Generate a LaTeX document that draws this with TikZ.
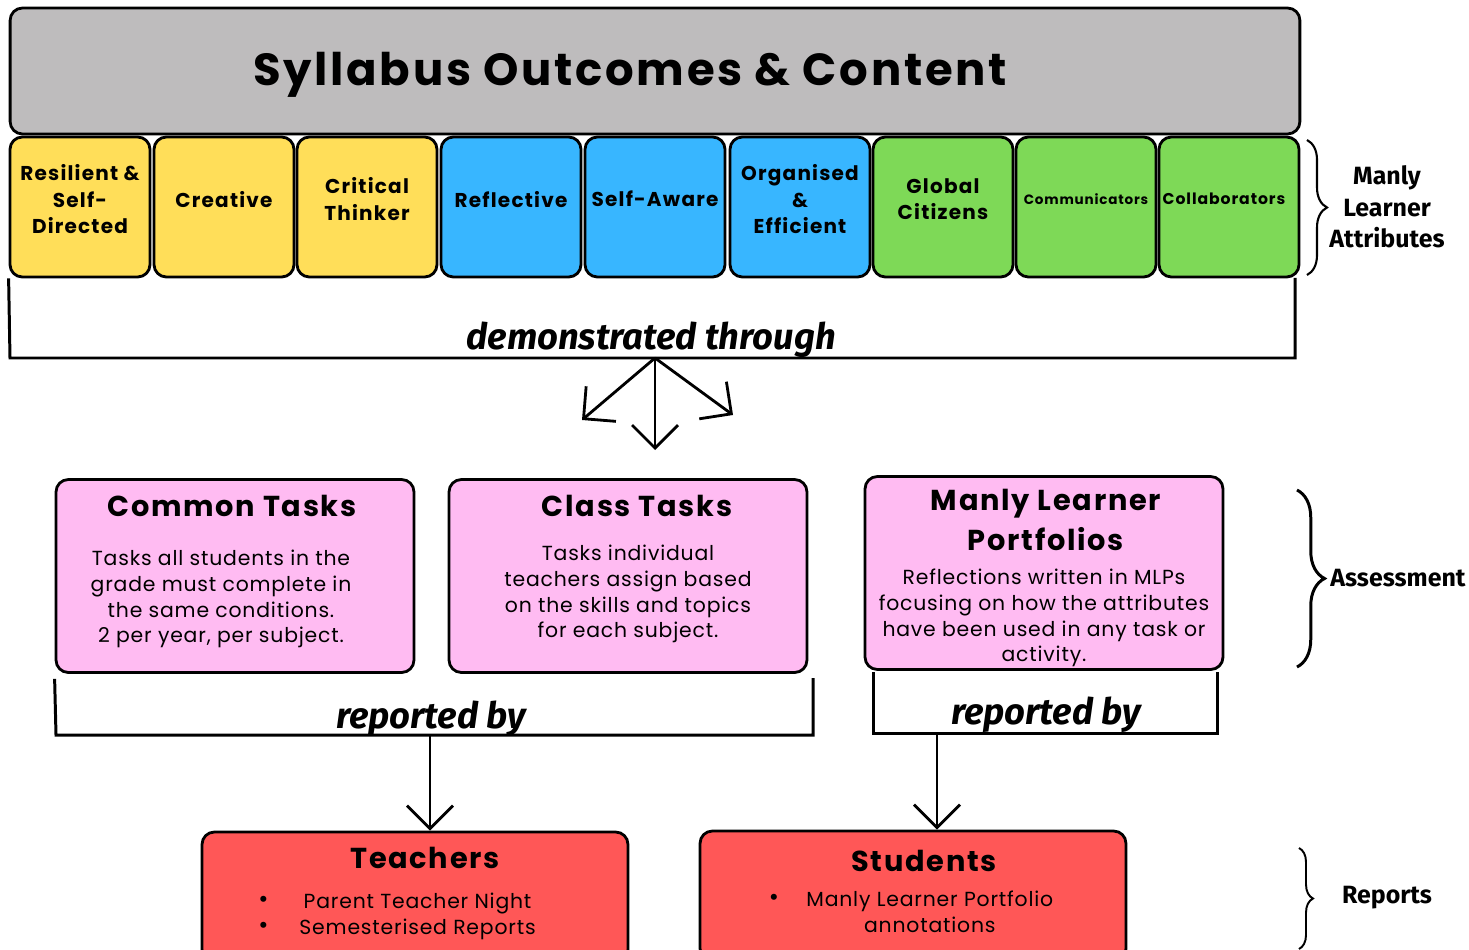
\documentclass[tikz,border=0pt]{standalone}
\usepackage{fontspec}
\setmainfont{Poppins}
\newfontfamily\spacedfont[LetterSpace=6]{Poppins}
\newfontfamily\bodyfont[LetterSpace=4]{Poppins}
\newfontfamily\sidefont{Fira Sans}
\usepackage{xcolor}
\usepackage{tikz}
\usetikzlibrary{positioning, arrows.meta, decorations.pathreplacing}

\definecolor{titlegray}{RGB}{190,188,189}
\definecolor{attryellow}{RGB}{255,222,89}
\definecolor{attrblue}{RGB}{56,182,255}
\definecolor{attrgreen}{RGB}{126,217,87}
\definecolor{taskpink}{RGB}{255,187,242}
\definecolor{reportred}{RGB}{255,87,87}
\newcommand{\bigbullet}{\raisebox{0.5pt}{\fontsize{14}{10}\selectfont\textbullet}}

\begin{document}
\begin{tikzpicture}[x=0.02cm,y=-0.02cm,>={Straight Barb[length=4.6mm,width=9.2mm]},
  box/.style={draw, line width=1.6pt, rounded corners=7pt},
  attr/.style={box, minimum width=2.8cm, minimum height=2.8cm, align=center, text depth=9pt,
    font=\fontsize{11.4}{15}\selectfont\spacedfont\bfseries},
  task/.style={box, fill=taskpink, minimum width=7.16cm, minimum height=3.86cm},
  report/.style={box, fill=reportred, minimum width=8.52cm, minimum height=2.6cm},
  boxtitle/.style={align=center, font=\fontsize{16.4}{22.7}\selectfont\spacedfont\bfseries},
  boxbody/.style={align=center, font=\fontsize{11.6}{14.7}\selectfont\bodyfont},
  phrase/.style={font=\fontsize{20.7}{24}\selectfont\sidefont\bfseries\itshape},
  bracket/.style={line width=1.7pt},
  sidelabel/.style={align=center, font=\fontsize{14.2}{18}\selectfont\sidefont\bfseries}]
\useasboundingbox (0,0) rectangle (1469,949);
\clip (0,0) rectangle (1469,949);

% Top: syllabus
\node[box, fill=titlegray, minimum width=25.8cm, minimum height=2.52cm] (syl) at (655,71) {};
\node[font=\fontsize{25.6}{30}\selectfont\spacedfont\bfseries] (sylT) at (630,75) {Syllabus Outcomes \& Content};

% Manly Learner Attributes
\node[attr, fill=attryellow] (attr1) at (80,207) {Resilient \&\\Self-\\Directed};
\node[attr, fill=attryellow] (attr2) at (224,207) {Creative};
\node[attr, fill=attryellow] (attr3) at (367,207) {Critical\\Thinker};
\node[attr, fill=attrblue] (attr4) at (511,207) {Reflective};
\node[attr, fill=attrblue] (attr5) at (655,207) {Self-Aware};
\node[attr, fill=attrblue] (attr6) at (800,207) {Organised\\\&\\Efficient};
\node[attr, fill=attrgreen] (attr7) at (943,207) {Global\\Citizens};
\node[attr, fill=attrgreen, font=\fontsize{7.7}{9}\selectfont\spacedfont\bfseries] (attr8) at (1086,207) {Communicators};
\node[attr, fill=attrgreen, font=\fontsize{8.9}{9}\selectfont\spacedfont\bfseries] (attr9) at (1229,207) {\hspace*{-0.2cm}Collaborators};
\draw[line width=1.2pt, decorate, decoration={brace, amplitude=0.4cm}] (1307,140) -- (1307,275);
\node[sidelabel] (mla) at (1387,207) {Manly\\Learner\\Attributes};

% demonstrated through
\draw[bracket] (attr1.south west) -- (10,358) -- (1295,358) -- (1295,278);
\node[phrase] (dt) at (651,340) {demonstrated through};
\coordinate (dtc) at (655,358);
\coordinate (dtL) at (582,420);
\coordinate (dtD) at (655,450);
\coordinate (dtR) at (733,415);
\draw[->, line width=1.6pt] (dtc) -- (dtL);
\draw[->, line width=1.6pt] (dtc) -- (dtD);
\draw[->, line width=1.6pt] (dtc) -- (dtR);

% Assessment
\node[task] (ct) at (235,576) {};
\node[boxtitle] (ctT) at (232,506) {Common Tasks};
\node[boxbody] (ctB) at (221,599) {Tasks all students in the\\grade must complete in\\the same conditions.\\2 per year, per subject.};
\node[task] (cl) at (628,576) {};
\node[boxtitle] (clT) at (637,506) {Class Tasks};
\node[boxbody] (clB) at (628,594) {Tasks individual\\teachers assign based\\on the skills and topics\\for each subject.};
\node[task] (mlp) at (1044,573) {};
\node[boxtitle] (mlpT) at (1046,520) {Manly Learner\\Portfolios};
\node[boxbody] (mlpB) at (1044,618) {Reflections written in MLPs\\focusing on how the attributes\\have been used in any task or\\activity.};
\draw[line width=1.7pt, decorate, decoration={brace, amplitude=0.55cm}] (1297,490) -- (1297,667);
\node[sidelabel, anchor=west, inner sep=0pt] (asm) at (1330,578) {Assessment};

% reported by
\draw[bracket] (ct.south west) ++(0,5) -- (56,735) -- (813,735) -- (813,678);
\node[phrase] (rb1T) at (431,719) {reported by};
\coordinate (rb1) at (430,735);
\draw[bracket] (873,672) -- (873,733) -- (1217,733) -- (1217,672);
\node[phrase] (rb2T) at (1046,715) {reported by};
\coordinate (rb2) at (937,733);

% Reports
\node[report] (teach) at (415,897) {};
\node[boxtitle] (teachT) at (425,858) {Teachers};
\node[boxbody] (teachB) at (397,916) {\begin{tabular}{@{}c@{\hspace{0.62cm}}c@{}}\bigbullet & Parent Teacher Night\\[0pt] \bigbullet & Semesterised Reports\end{tabular}};
\node[report] (stud) at (913,896) {};
\node[boxtitle] (studT) at (924,861) {Students};
\node[boxbody] (studB) at (911,914) {\begin{tabular}{@{}c@{\hspace{0.55cm}}c@{}}\bigbullet & Manly Learner Portfolio\\[0pt] & annotations\end{tabular}};
\draw[->, line width=1.6pt] (rb1) -- (rb1 |- teach.north);
\draw[->, line width=1.6pt] (rb2) -- (rb2 |- stud.north);
\draw[line width=1.1pt, decorate, decoration={brace, amplitude=0.28cm}] (1299,848) -- (1299,949);
\node[sidelabel] (rep) at (1387,898) {Reports};
\end{tikzpicture}
\end{document}
